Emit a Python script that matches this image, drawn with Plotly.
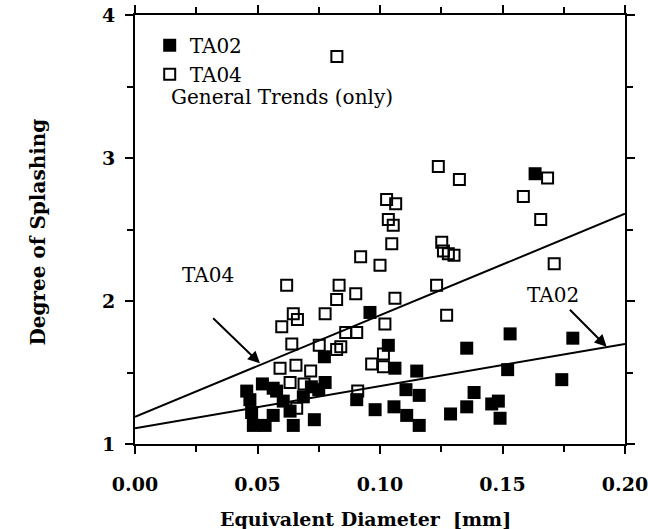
import plotly.graph_objects as go

# ---- data ----
ta02_x = [0.0456, 0.0469, 0.0476, 0.0483, 0.0520, 0.0531, 0.0564, 0.0564, 0.0578,
          0.0605, 0.0633, 0.0646, 0.0687, 0.0732, 0.0720, 0.0750, 0.0776, 0.0773,
          0.0905, 0.0959, 0.0980, 0.1034, 0.1061, 0.1057, 0.1106, 0.1109, 0.1150,
          0.1160, 0.1160, 0.1288, 0.1354, 0.1384, 0.1354, 0.1456, 0.1483, 0.1490,
          0.1521, 0.1531, 0.1633, 0.1742, 0.1787]
ta02_y = [1.37, 1.31, 1.22, 1.13, 1.42, 1.13, 1.39, 1.20, 1.37,
          1.30, 1.23, 1.13, 1.33, 1.17, 1.40, 1.38, 1.43, 1.61,
          1.31, 1.92, 1.24, 1.69, 1.53, 1.26, 1.38, 1.20, 1.51,
          1.34, 1.13, 1.21, 1.26, 1.36, 1.67, 1.28, 1.30, 1.18,
          1.52, 1.77, 2.89, 1.45, 1.74]

ta04_x = [0.0824, 0.0921, 0.1000, 0.0619, 0.0833, 0.0823, 0.0901, 0.0646, 0.0663,
          0.0776, 0.0599, 0.1238, 0.1324, 0.1684, 0.1585, 0.1656, 0.1711, 0.1027,
          0.1064, 0.1034, 0.1054, 0.1048, 0.1252, 0.1259, 0.1279, 0.1302, 0.1231,
          0.1061, 0.1272, 0.0860, 0.0905, 0.0640, 0.0752, 0.0823, 0.0840, 0.0592,
          0.0657, 0.0717, 0.0633, 0.0690, 0.0909, 0.0660, 0.0966, 0.1014, 0.1020,
          0.1014]
ta04_y = [3.71, 2.31, 2.25, 2.11, 2.11, 2.01, 2.05, 1.91, 1.87,
          1.91, 1.82, 2.94, 2.85, 2.86, 2.73, 2.57, 2.26, 2.71,
          2.68, 2.57, 2.53, 2.40, 2.41, 2.35, 2.33, 2.32, 2.11,
          2.02, 1.90, 1.78, 1.78, 1.70, 1.69, 1.66, 1.68, 1.53,
          1.55, 1.51, 1.43, 1.42, 1.37, 1.25, 1.56, 1.63, 1.84,
          1.54]

trend_x = [0.0, 0.20]
trend_ta04_y = [1.19, 2.61]
trend_ta02_y = [1.11, 1.70]

x_ticks = [0.00, 0.05, 0.10, 0.15, 0.20]
x_tick_labels = ["0.00", "0.05", "0.10", "0.15", "0.20"]
y_ticks = [1, 2, 3, 4]
y_tick_labels = ["1", "2", "3", "4"]

SERIF = "DejaVu Serif"

fig = go.Figure()
fig.add_trace(go.Scatter(x=trend_x, y=trend_ta04_y, mode="lines",
                         line=dict(color="black", width=2), showlegend=False,
                         hoverinfo="skip"))
fig.add_trace(go.Scatter(x=trend_x, y=trend_ta02_y, mode="lines",
                         line=dict(color="black", width=2), showlegend=False,
                         hoverinfo="skip"))
fig.add_trace(go.Scatter(x=ta04_x, y=ta04_y, mode="markers", name="TA04",
                         marker=dict(symbol="square-open", size=11, color="black",
                                     line=dict(width=2, color="black"))))
fig.add_trace(go.Scatter(x=ta02_x, y=ta02_y, mode="markers", name="TA02",
                         marker=dict(symbol="square", size=13, color="black")))

axis_common = dict(showline=True, linecolor="black", linewidth=2, mirror="allticks",
                   ticks="outside", tickcolor="black", tickwidth=1.5, ticklen=8,
                   showgrid=False, zeroline=False, automargin=False,
                   ticklabeloverflow="allow",
                   tickfont=dict(family=SERIF, size=19, color="black", weight="bold"))

fig.update_xaxes(range=[0, 0.20], tickvals=x_ticks, ticktext=x_tick_labels,
                 minor=dict(dtick=0.025, tick0=0, ticks="outside", ticklen=6,
                            tickcolor="black", tickwidth=1.5),
                 ticklabelstandoff=14, **axis_common)
fig.update_yaxes(range=[1, 4], tickvals=y_ticks, ticktext=y_tick_labels,
                 minor=dict(dtick=0.5, tick0=1, ticks="outside", ticklen=6,
                            tickcolor="black", tickwidth=1.5),
                 ticklabelstandoff=6, **axis_common)

# axis titles
fig.add_annotation(x=0.5, y=-0.175, xref="paper", yref="paper", xanchor="center",
                   yanchor="middle", xshift=-15, text="<b>Equivalent Diameter  [mm]</b>",
                   showarrow=False, font=dict(family=SERIF, size=19, color="black"))
fig.add_annotation(x=-0.198, y=0.5, xref="paper", yref="paper", xanchor="center",
                   yanchor="middle", textangle=-90, yshift=-2,
                   text="<b>Degree of Splashing</b>",
                   showarrow=False, font=dict(family=SERIF, size=20, color="black"))

# trend labels and arrows
fig.add_annotation(x=0.0298, y=2.18, text="TA04", showarrow=False,
                   font=dict(family=SERIF, size=20, color="black"))
fig.add_annotation(x=0.051, y=1.564, ax=0.0313, ay=1.89, axref="x", ayref="y",
                   text="", showarrow=True, arrowhead=2, arrowsize=1.2, arrowwidth=2,
                   arrowcolor="black")
fig.add_annotation(x=0.1705, y=2.04, text="TA02", showarrow=False,
                   font=dict(family=SERIF, size=20, color="black"))
fig.add_annotation(x=0.1925, y=1.68, ax=0.1769, ay=1.949, axref="x", ayref="y",
                   text="", showarrow=True, arrowhead=2, arrowsize=1.2, arrowwidth=2,
                   arrowcolor="black")
fig.add_annotation(x=0.069, y=0.809, xref="paper", yref="paper", xanchor="left",
                   yanchor="middle", text="General Trends (only)", showarrow=False,
                   font=dict(family=SERIF, size=20, color="black"))

fig.update_layout(
    width=648, height=529,
    margin=dict(l=135, r=23, t=15, b=85),
    paper_bgcolor="white", plot_bgcolor="white",
    legend=dict(x=0.03, y=0.975, xanchor="left", yanchor="top",
                traceorder="reversed", bgcolor="rgba(0,0,0,0)",
                font=dict(family=SERIF, size=20, color="black"),
                itemwidth=30, tracegroupgap=0),
    showlegend=True,
)

fig.write_html("out.html")
